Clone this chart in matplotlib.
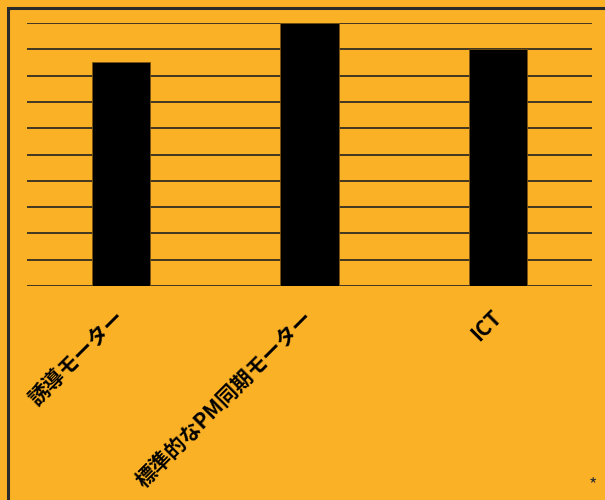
import matplotlib.pyplot as plt
from matplotlib.patches import Rectangle

plt.rcParams['font.family'] = ['Noto Sans CJK JP', 'DejaVu Sans']

categories = ['誘導モーター', '標準的なPM同期モーター', 'ICT']
values = [8.5, 10, 9.0]
yticks = list(range(0, 11))

bg = '#fbb126'

fig = plt.figure(figsize=(6.05, 5.0), dpi=100, facecolor=bg)
ax = fig.add_axes([27/605, 1 - 286/500, 565/605, 263/500])
ax.set_facecolor(bg)

x = range(len(categories))
ax.bar(x, values, width=0.31, color='black', edgecolor='#7a5410', linewidth=0.6, zorder=3)

ax.set_xlim(-0.5, 2.5)
ax.set_ylim(0, 10)
ax.set_yticks(yticks)
ax.yaxis.grid(True, color='#222222', linewidth=1.2, zorder=0)
ax.tick_params(axis='y', length=0, labelleft=False)
ax.tick_params(axis='x', length=0, pad=20)
ax.set_xticks(list(x))
ax.set_xticklabels(categories, rotation=45, ha='right', va='center', rotation_mode='anchor',
                   fontsize=15, fontweight='bold')
for s in ax.spines.values():
    s.set_visible(False)

# frame around the figure (left and top visible)
fig.patches.append(Rectangle((7.5/605, -0.1), 1.2, 1 - 7.5/500 + 0.1,
                             transform=fig.transFigure, fill=False,
                             edgecolor='#2a2a2a', linewidth=2.2))

fig.text(593/605, 1 - 485/500, '*', ha='center', va='center', fontsize=13, color='#333333')

fig.savefig('out.png', dpi=100, facecolor=bg)
